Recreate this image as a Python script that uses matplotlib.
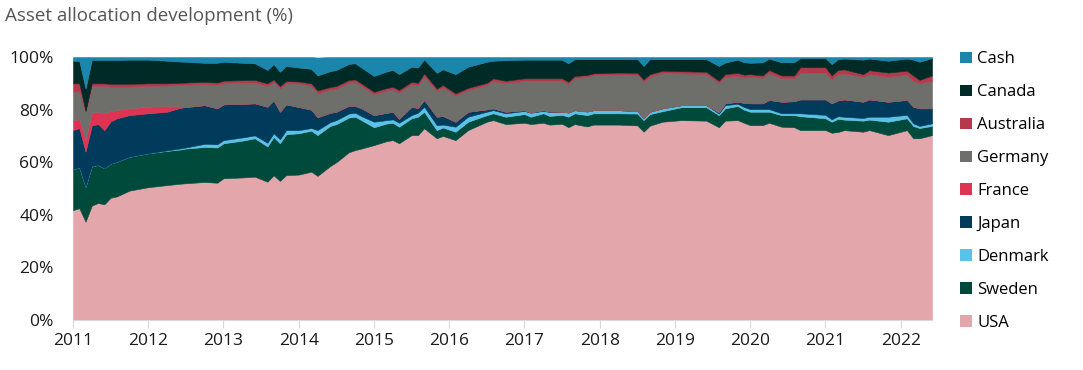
import numpy as np
import matplotlib
matplotlib.use("Agg")
import matplotlib.pyplot as plt
from matplotlib.patches import Patch

plt.rcParams["font.family"] = ["Open Sans", "DejaVu Sans"]

# months since Jan 2011 at which the values were read
months = [0, 1, 2, 3, 4, 5, 6, 7, 9, 12, 15, 17, 18, 21, 23, 24, 27, 29, 31, 32,
          33, 34, 36, 38, 39, 41, 42, 44, 45, 46, 48, 50, 51, 52, 54, 55, 56, 58, 59, 61,
          63, 66, 67, 69, 72, 73, 75, 76, 78, 79, 80, 82, 83, 87, 90, 91, 92, 94, 97, 101,
          103, 104, 106, 107, 108, 110, 111, 113, 115, 116, 120, 121, 122, 123, 126, 127, 130, 133, 134, 135,
          137]

usa = [41.8, 42.5, 37.4, 43.5, 44.5, 44.0, 46.5, 47.0, 49.2, 50.5, 51.3, 51.8, 52.0, 52.5, 52.2, 53.9, 54.2, 54.5, 52.6, 55.0,
       52.9, 55.1, 55.3, 56.4, 54.8, 58.5, 60.0, 63.8, 64.6, 65.2, 66.5, 68.0, 68.4, 67.2, 70.3, 70.3, 72.9, 69.1, 70.0, 68.4,
       72.2, 75.4, 76.0, 74.5, 75.0, 74.5, 75.0, 74.3, 74.6, 73.3, 74.5, 73.6, 74.3, 74.3, 74.0, 71.6, 73.9, 75.4, 76.0, 75.8,
       73.3, 75.8, 76.0, 75.0, 74.1, 74.1, 75.0, 73.5, 73.3, 72.2, 72.2, 71.2, 71.5, 72.2, 71.6, 72.2, 70.3, 72.2, 69.1, 69.1,
       70.3]
sweden = [15.6, 15.5, 13.3, 15.0, 14.5, 13.7, 13.0, 13.2, 12.9, 12.9, 13.0, 13.0, 13.2, 13.3, 13.4, 13.3, 14.0, 14.6, 13.4, 14.6,
          14.3, 15.5, 15.7, 15.6, 15.5, 15.3, 14.5, 13.2, 12.7, 10.8, 6.8, 6.7, 6.6, 6.3, 6.4, 7.0, 6.3, 3.1, 3.2, 3.2,
          3.2, 2.5, 2.6, 2.8, 3.3, 2.8, 3.6, 3.3, 3.4, 4.0, 4.1, 4.3, 4.3, 4.3, 4.5, 4.4, 4.4, 4.0, 4.9, 5.1,
          4.6, 4.7, 5.4, 5.0, 5.1, 5.1, 4.2, 4.4, 4.6, 5.3, 4.5, 4.2, 5.0, 4.0, 4.2, 4.0, 5.1, 4.5, 4.7, 3.9,
          3.5]
denmark = [0, 0, 0, 0, 0, 0, 0, 0, 0, 0, 0.2, 0.4, 0.4, 1.2, 1.2, 1.2, 1.2, 1.1, 1.4, 1.4,
           1.5, 1.6, 1.2, 1.0, 1.9, 1.4, 1.5, 1.5, 1.5, 1.5, 2.1, 1.3, 1.3, 1.5, 1.2, 1.5, 1.9, 1.9, 1.1, 1.9,
           1.9, 1.3, 1.2, 1.3, 1.2, 1.5, 0.9, 1.5, 1.3, 1.6, 1.2, 1.4, 1.2, 1.2, 1.0, 0.7, 0.9, 1.1, 0.8, 0.8,
           0.6, 1.2, 0.8, 1.0, 1.0, 1.0, 1.0, 0.7, 0.7, 1.1, 1.3, 0.9, 1.0, 1.1, 1.0, 1.1, 1.9, 1.3, 1.0, 0.8,
           1.0]
japan = [14.8, 15.0, 13.3, 15.5, 15.5, 14.5, 16.0, 16.5, 15.8, 15.2, 14.7, 15.4, 15.4, 14.7, 13.7, 13.6, 12.8, 12.2, 13.7, 12.5,
         10.5, 9.8, 8.8, 7.0, 4.9, 3.6, 3.2, 3.0, 2.6, 3.0, 2.5, 2.8, 2.9, 1.5, 3.2, 1.8, 2.6, 3.2, 3.3, 1.9,
         1.9, 0.9, 0.7, 0.6, 0.3, 0.2, 0.3, 0.2, 0, 0, 0, 0, 0, 0, 0, 0, 0, 0, 0, 0,
         0.5, 0.7, 0.8, 1.6, 2.2, 2.2, 3.5, 4.4, 4.6, 5.3, 5.9, 6.1, 6.0, 6.6, 6.2, 6.6, 5.7, 5.7, 6.3, 6.7,
         5.7]
france = [3.6, 3.5, 4.5, 5.0, 4.7, 6.4, 4.0, 3.1, 2.6, 2.5, 2.2, 0.6, 0, 0, 0, 0, 0, 0, 0, 0,
          0, 0, 0, 0, 0, 0, 0, 0, 0, 0, 0, 0, 0, 0, 0, 0, 0, 0, 0, 0,
          0, 0, 0, 0, 0, 0, 0, 0, 0, 0, 0, 0, 0, 0, 0, 0, 0, 0, 0, 0,
          0, 0, 0, 0, 0, 0, 0, 0, 0, 0, 0, 0, 0, 0, 0, 0, 0, 0, 0, 0,
          0]
germany = [11.0, 10.5, 10.5, 10.0, 9.8, 10.4, 9.3, 9.0, 8.3, 7.9, 7.8, 8.2, 8.5, 8.0, 8.9, 8.0, 8.0, 7.8, 7.9, 7.0,
           8.8, 8.0, 9.0, 9.0, 9.1, 8.8, 8.8, 8.9, 9.2, 8.5, 8.0, 8.5, 8.6, 10.0, 8.6, 8.7, 9.0, 9.9, 10.9, 9.9,
           8.3, 9.3, 10.5, 10.8, 11.2, 12.0, 11.2, 11.7, 11.7, 10.8, 12.2, 13.2, 13.4, 13.5, 13.8, 13.9, 13.5, 13.5, 12.1, 11.8,
           11.2, 10.1, 9.8, 9.6, 10.1, 9.8, 10.3, 9.0, 8.8, 10.1, 10.1, 9.1, 10.0, 9.9, 9.5, 9.6, 9.5, 9.6, 9.9, 9.5,
           10.5]
australia = [3.2, 3.0, 0.5, 1.0, 1.0, 1.0, 1.0, 1.0, 1.0, 1.0, 0.8, 0.8, 0.8, 0.9, 0.9, 1.0, 1.0, 1.1, 1.0, 1.0,
             1.0, 0.9, 0.7, 1.0, 1.1, 1.0, 1.0, 0.9, 0.9, 1.0, 0.9, 0.9, 0.9, 1.0, 0.9, 0.9, 1.1, 0.8, 0.9, 0.9,
             0.8, 0.8, 0.9, 1.0, 0.9, 0.9, 0.9, 0.9, 0.9, 0.9, 0.8, 0.7, 0.6, 0.8, 0.7, 0.9, 0.8, 0.8, 0.8, 0.9,
             0.8, 1.0, 1.2, 1.1, 1.0, 0.8, 1.1, 1.0, 1.0, 2.1, 2.1, 1.5, 1.6, 1.5, 1.0, 1.5, 1.6, 1.5, 2.0, 1.3,
             2.0]
canada = [8.6, 8.5, 8.5, 8.9, 8.9, 8.9, 9.1, 9.1, 9.2, 9.0, 8.6, 8.1, 7.9, 7.2, 7.5, 7.2, 6.6, 6.3, 5.1, 5.8,
          5.4, 5.7, 5.3, 5.5, 5.7, 6.0, 6.1, 6.1, 6.1, 6.0, 6.0, 6.3, 6.4, 6.0, 5.7, 5.8, 5.3, 6.0, 5.9, 7.3,
          8.0, 8.0, 6.7, 7.8, 7.1, 7.1, 7.1, 7.1, 7.1, 7.0, 6.4, 6.0, 5.4, 5.1, 5.2, 5.1, 5.7, 4.4, 4.6, 4.8,
          5.6, 4.4, 5.0, 4.7, 4.3, 5.0, 4.3, 5.0, 5.0, 3.5, 3.5, 4.3, 4.1, 4.1, 5.5, 4.4, 4.5, 4.6, 6.0, 6.9,
          6.6]
cash = [1.4, 1.5, 12.0, 1.1, 1.1, 1.1, 1.1, 1.1, 1.0, 1.0, 1.4, 1.7, 1.8, 2.2, 2.2, 1.8, 2.2, 2.4, 4.9, 2.7,
        5.6, 3.4, 4.0, 4.5, 6.8, 5.4, 4.9, 2.6, 2.4, 4.0, 7.2, 5.5, 4.9, 6.5, 3.7, 4.0, 0.9, 6.0, 4.7, 6.5,
        3.7, 1.8, 1.4, 1.2, 1.0, 1.0, 1.0, 1.0, 1.0, 2.4, 0.8, 0.8, 0.8, 0.8, 0.8, 3.4, 0.8, 0.8, 0.8, 0.8,
        3.4, 2.1, 1.0, 2.0, 2.2, 2.0, 0.6, 2.0, 2.0, 0.4, 0.4, 2.7, 0.8, 0.6, 1.0, 0.6, 1.4, 0.6, 1.0, 1.8,
        0.4]

labels = ["USA", "Sweden", "Denmark", "Japan", "France", "Germany", "Australia", "Canada", "Cash"]
colors = ["#e3a6ab", "#004a3c", "#5bc2e7", "#003b5c", "#de3454", "#6e6e6a", "#b5394a", "#002a26", "#1a86ab"]

x = 2011 + np.array(months) / 12.0

fig = plt.figure(figsize=(10.83, 3.70), dpi=100)
ax = fig.add_axes([0.0674, 0.1351, 0.8606 - 0.0674, 0.8459 - 0.1351])

polys = ax.stackplot(x, usa, sweden, denmark, japan, france, germany, australia, canada, cash,
                     colors=colors, linewidth=0)
for p, c in zip(polys, colors):
    p.set_edgecolor(c)
    p.set_linewidth(0.4)

ax.set_xlim(x[0], x[-1])
ax.set_ylim(0, 100)
ax.set_yticks(range(0, 101, 20))
ax.set_yticklabels([f"{v}%" for v in range(0, 101, 20)])
ax.set_xticks(range(2011, 2023))

for s in ["top", "right", "left"]:
    ax.spines[s].set_visible(False)
ax.spines["bottom"].set_color("#d9d9d9")
ax.tick_params(axis="x", length=6, color="#d9d9d9", labelsize=12.5, colors="#d9d9d9",
               labelcolor="#1a1a1a", pad=3)
ax.tick_params(axis="y", length=0, labelsize=12.5, labelcolor="#1a1a1a", pad=14)

fig.text(0.005, 0.957, "Asset allocation development (%)", fontsize=13.5, color="#555555",
         ha="left", va="center")

handles = [Patch(facecolor=c, edgecolor="none") for c in colors][::-1]
fig.legend(handles, labels[::-1], loc="upper left", bbox_to_anchor=(0.8863, 0.861),
           frameon=False, fontsize=12, handlelength=0.7, handleheight=0.7,
           handletextpad=0.35, labelspacing=1.015, borderaxespad=0, borderpad=0)

fig.savefig("out.png", dpi=100)
